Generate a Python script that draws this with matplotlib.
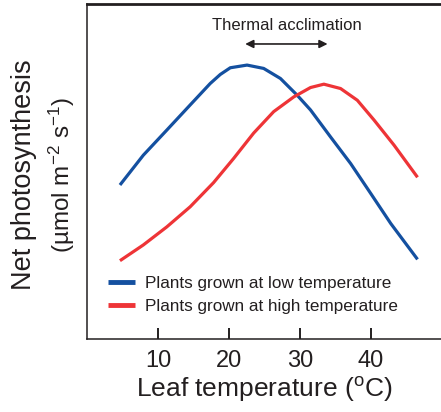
import matplotlib
matplotlib.use('Agg')
import matplotlib.pyplot as plt

plt.rcParams['font.family'] = ['Liberation Sans', 'DejaVu Sans']
plt.rcParams['mathtext.fontset'] = 'custom'
plt.rcParams['mathtext.rm'] = 'Liberation Sans'
plt.rcParams['mathtext.it'] = 'Liberation Sans'

# leaf temperature (C) vs net photosynthesis (arbitrary units, 0-100 of axis)
t_low = [4.66, 7.95, 11.26, 14.55, 17.37, 18.79, 20.2, 22.56, 24.9, 27.26,
         29.62, 31.5, 34.3, 37.15, 39.97, 42.8, 46.57]
p_low = [46.0, 54.9, 62.4, 69.9, 76.3, 79.0, 81.0, 81.8, 80.8, 77.8,
         72.8, 68.4, 60.4, 52.4, 43.5, 34.5, 23.8]
t_high = [4.66, 7.95, 11.26, 14.55, 17.84, 20.66, 23.49, 26.31, 29.14, 31.5,
          33.38, 35.73, 38.09, 40.44, 43.26, 46.57]
p_high = [23.4, 28.1, 33.5, 39.5, 46.7, 53.9, 61.5, 67.9, 72.3, 75.1,
          76.1, 74.8, 71.3, 65.4, 57.9, 48.3]

blue = '#1450a0'
red = '#ee3437'
ink = '#231f20'

fig = plt.figure(figsize=(4.41, 4.12), dpi=100)
ax = fig.add_axes([0.197, 0.177, 0.805, 0.813])

ax.plot(t_low, p_low, color=blue, lw=2.3, solid_capstyle='butt',
        solid_joinstyle='round', label='Plants grown at low temperature')
ax.plot(t_high, p_high, color=red, lw=2.3, solid_capstyle='butt',
        solid_joinstyle='round', label='Plants grown at high temperature')

ax.set_xlim(0, 50)
ax.set_ylim(0, 100)
ax.set_xticks([10, 20, 30, 40])
ax.set_yticks([])
ax.tick_params(axis='x', direction='in', length=8, width=1.4, pad=8,
               labelsize=17, colors=ink)
for side in ['left', 'bottom']:
    ax.spines[side].set_linewidth(1.1)
    ax.spines[side].set_color(ink)
ax.spines['top'].set_linewidth(2)
ax.spines['top'].set_color(ink)
ax.spines['right'].set_visible(False)

ax.set_xlabel('Leaf temperature ($^{\\rm o}$C)', fontsize=19, color=ink, labelpad=2)

fig.text(0.054, 0.575, 'Net photosynthesis', rotation=90, fontsize=19.5,
         color=ink, ha='center', va='center')
fig.text(0.141, 0.575, '(\u00b5mol m$^{-2}$ s$^{-1}$)', rotation=90, fontsize=17.5,
         color=ink, ha='center', va='center')

ax.annotate('', xy=(22.3, 88.1), xytext=(33.9, 88.1),
            arrowprops=dict(arrowstyle='<|-|>', color=ink, lw=1.2,
                            mutation_scale=12, shrinkA=0, shrinkB=0))
ax.text(28.2, 93.7, 'Thermal acclimation', fontsize=12, color=ink,
        ha='center', va='center')

leg = ax.legend(loc='lower left', bbox_to_anchor=(0.04, 0.055), frameon=False,
                fontsize=12.3, handlelength=1.6, handletextpad=0.6,
                labelspacing=0.45, borderaxespad=0)
for t in leg.get_texts():
    t.set_color(ink)
for h in leg.get_lines():
    h.set_linewidth(3.5)

fig.savefig('out.png', dpi=100)
